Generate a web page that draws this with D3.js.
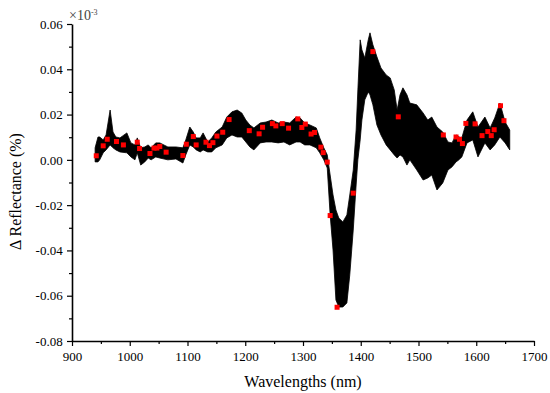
<!DOCTYPE html>
<html>
<head>
<meta charset="utf-8">
<script src="https://cdn.jsdelivr.net/npm/d3@7"></script>
</head>
<body style="margin:0">
<script>
// wavelength grid (nm) of the spectra band
var wavelengths = [940,945,948,954,959,966,971,976,983,995,1002,1009,1013,1019,1026,1032,1037,1045,1052,1066,
  1080,1092,1097,1104,1110,1115,1122,1127,1135,1142,1149,1160,1168,1177,1186,1194,1201,1208,1215,1226,
  1236,1246,1257,1267,1277,1288,1295,1303,1312,1323,1329,1336,1342,1347,1352,1357,1362,1369,1376,1381,
  1387,1392,1395,1399,1402,1407,1413,1416,1421,1428,1435,1444,1451,1458,1463,1468,1473,1480,1485,1497,
  1508,1516,1523,1532,1542,1551,1558,1565,1570,1575,1584,1594,1603,1615,1624,1632,1641,1650,1658];

// highest spectrum of the set
var upper = [0.0053,0.0101,0.0101,0.0088,0.0110,0.0220,0.0123,0.0101,0.0097,0.0119,0.0075,0.0066,0.0097,0.0053,0.0057,
  0.0066,0.0053,0.0075,0.0075,0.0057,0.0057,0.0053,0.0088,0.0145,0.0123,0.0097,0.0097,0.0119,0.0079,0.0097,
  0.0123,0.0145,0.0189,0.0212,0.0220,0.0207,0.0176,0.0154,0.0141,0.0163,0.0167,0.0176,0.0163,0.0167,0.0163,
  0.0189,0.0185,0.0163,0.0154,0.0141,0.0097,0.0053,0.0022,-0.0067,-0.0155,-0.0221,-0.0257,-0.0274,-0.0243,-0.0155,
  -0.0045,0.0132,0.0309,0.0530,0.0486,0.0450,0.0530,0.0561,0.0508,0.0455,0.0406,0.0375,0.0362,0.0309,0.0220,
  0.0287,0.0318,0.0287,0.0251,0.0243,0.0207,0.0176,0.0189,0.0145,0.0123,0.0079,0.0075,0.0110,0.0101,0.0097,
  0.0176,0.0212,0.0145,0.0189,0.0141,0.0185,0.0251,0.0167,0.0132];

// lowest spectrum of the set
var lower = [-0.0009,-0.0009,0.0000,0.0031,0.0044,0.0066,0.0053,0.0044,0.0035,0.0031,0.0013,0.0000,0.0031,-0.0023,-0.0009,
  0.0008,0.0000,0.0013,0.0008,0.0000,0.0004,-0.0014,0.0022,0.0066,0.0057,0.0044,0.0035,0.0044,0.0035,0.0035,
  0.0053,0.0066,0.0097,0.0110,0.0101,0.0101,0.0079,0.0057,0.0044,0.0075,0.0079,0.0079,0.0075,0.0079,0.0066,
  0.0079,0.0079,0.0066,0.0066,0.0053,0.0031,0.0000,-0.0036,-0.0243,-0.0398,-0.0619,-0.0650,-0.0650,-0.0632,-0.0508,
  -0.0310,-0.0111,0.0000,0.0088,0.0176,0.0265,0.0300,0.0287,0.0243,0.0154,0.0110,0.0066,0.0044,0.0022,0.0008,
  0.0022,0.0013,-0.0023,0.0000,-0.0045,-0.0089,-0.0080,-0.0067,-0.0133,-0.0102,-0.0045,-0.0031,-0.0009,0.0000,0.0013,
  0.0075,0.0088,0.0013,0.0075,0.0044,0.0066,0.0101,0.0075,0.0044];

// red marked points
var markerWl = [942,954,961,977,989,1013,1017,1035,1042,1047,1052,1063,1092,1098,1110,1115,1132,1138,1144,1151,
  1161,1172,1207,1224,1230,1247,1253,1264,1275,1291,1298,1304,1314,1320,1331,1335,1342,1347,1359,1387,
  1421,1465,1543,1565,1571,1576,1582,1598,1610,1620,1626,1631,1642,1648];
var markerVal = [0.0018,0.0062,0.0091,0.0081,0.0066,0.0078,0.0050,0.0028,0.0052,0.0052,0.0059,0.0034,0.0019,0.0069,0.0103,0.0066,
  0.0078,0.0063,0.0076,0.0105,0.0122,0.0178,0.0129,0.0115,0.0144,0.0160,0.0150,0.0160,0.0140,0.0181,0.0143,0.0158,
  0.0114,0.0121,0.0056,0.0032,-0.0010,-0.0246,-0.0651,-0.0147,0.0478,0.0190,0.0110,0.0101,0.0091,0.0072,0.0161,
  0.0159,0.0107,0.0125,0.0107,0.0133,0.0239,0.0173];

var majorX = [900,1000,1100,1200,1300,1400,1500,1600,1700];
var minorX = [950,1050,1150,1250,1350,1450,1550,1650];
var majorY = [-0.08,-0.06,-0.04,-0.02,0.00,0.02,0.04,0.06];
var minorY = [-0.07,-0.05,-0.03,-0.01,0.01,0.03,0.05];

var serif = "'Liberation Serif'";

var w = 550, h = 393;
var margin = {top: 24, right: 16, bottom: 52, left: 72};

var svg = d3.select("body").append("svg")
  .attr("width", w)
  .attr("height", h);

var x = d3.scaleLinear().domain([900, 1700]).range([margin.left, w - margin.right]);
var y = d3.scaleLinear().domain([-0.08, 0.06]).range([h - margin.bottom, margin.top]);

// spectra band
var band = wavelengths.map(function(d, i){ return {wl: d, hi: upper[i], lo: lower[i]}; });

svg.append("path")
  .datum(band)
  .attr("fill", "#000")
  .attr("stroke", "#000")
  .attr("stroke-width", 0.8)
  .attr("stroke-linejoin", "round")
  .attr("d", d3.area()
    .x(function(d){ return x(d.wl); })
    .y0(function(d){ return y(d.lo); })
    .y1(function(d){ return y(d.hi); }));

// red markers
var s = 5;
svg.selectAll("rect.mk")
  .data(markerWl)
  .enter()
  .append("rect")
  .attr("class", "mk")
  .attr("x", function(d){ return x(d) - s / 2; })
  .attr("y", function(d, i){ return y(markerVal[i]) - s / 2; })
  .attr("width", s)
  .attr("height", s)
  .attr("fill", "#ff0000");

// axes
function styleAxis(g){
  g.attr("font-family", serif).attr("font-size", 13);
  g.select(".domain").attr("stroke", "#000").attr("stroke-width", 1.6);
  g.selectAll(".tick line").attr("stroke", "#000").attr("stroke-width", 1.2);
  g.selectAll("text").attr("font-family", serif)
    .attr("font-size", "13px").attr("fill", "#000");
}

var xAxis = svg.append("g")
  .attr("transform", "translate(0," + (h - margin.bottom) + ")")
  .call(d3.axisBottom(x).tickValues(majorX).tickSize(5).tickSizeOuter(0)
    .tickFormat(function(d){ return d; }));
styleAxis(xAxis);
xAxis.selectAll("text").attr("dy", "0.95em");

var xMinor = svg.append("g")
  .attr("transform", "translate(0," + (h - margin.bottom) + ")")
  .call(d3.axisBottom(x).tickValues(minorX).tickSize(3).tickFormat(""));
xMinor.select(".domain").remove();
xMinor.selectAll(".tick line").attr("stroke", "#000").attr("stroke-width", 1.2);

var yAxis = svg.append("g")
  .attr("transform", "translate(" + margin.left + ",0)")
  .call(d3.axisLeft(y).tickValues(majorY).tickSize(5).tickSizeOuter(0)
    .tickFormat(function(d){ return d.toFixed(2); }));
styleAxis(yAxis);
yAxis.selectAll("text").attr("dx", "-0.1em");

var yMinor = svg.append("g")
  .attr("transform", "translate(" + margin.left + ",0)")
  .call(d3.axisLeft(y).tickValues(minorY).tickSize(3).tickFormat(""));
yMinor.select(".domain").remove();
yMinor.selectAll(".tick line").attr("stroke", "#000").attr("stroke-width", 1.2);

// scale factor note
var note = svg.append("text")
  .attr("x", margin.left - 3)
  .attr("y", margin.top - 4)
  .attr("font-family", serif)
  .attr("font-size", "14px")
  .attr("fill", "#444");
note.append("tspan").text("\u00d710");
note.append("tspan").attr("dy", "-5").attr("font-size", "8px").text("-3");

// axis titles
svg.append("text")
  .attr("x", (margin.left + w - margin.right) / 2)
  .attr("y", h - 6)
  .attr("text-anchor", "middle")
  .attr("font-family", serif)
  .attr("font-size", "16px")
  .attr("fill", "#000")
  .text("Wavelengths (nm)");

svg.append("text")
  .attr("transform", "translate(21," + ((margin.top + h - margin.bottom) / 2 + 9) + ") rotate(-90)")
  .attr("text-anchor", "middle")
  .attr("font-family", serif)
  .attr("font-size", "16px")
  .attr("fill", "#000")
  .text("\u0394 Reflectance (%)");
</script>
</body>
</html>
